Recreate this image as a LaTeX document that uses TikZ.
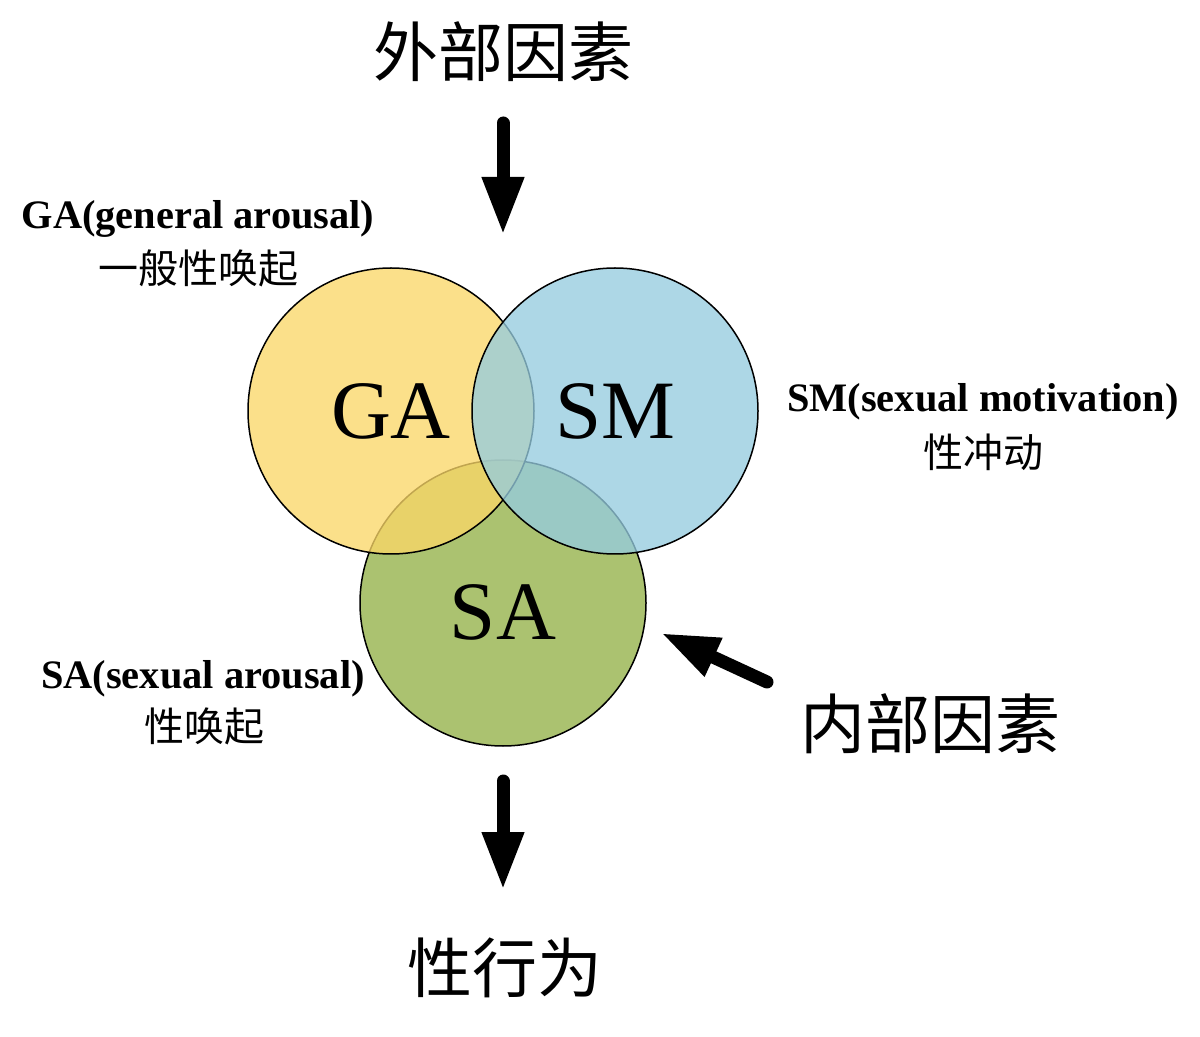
\documentclass[tikz,border=0pt]{standalone}
\usepackage{fontspec}
\setmainfont{Liberation Serif}
\newfontfamily\cjk{Noto Sans CJK SC}
\usetikzlibrary{arrows.meta}
\definecolor{gacol}{RGB}{251,215,103}
\definecolor{smcol}{RGB}{149,204,223}
\definecolor{sacol}{RGB}{171,194,112}
\tikzset{
  venn/.style={circle, draw=black, line width=0.75pt, minimum size=143pt, inner sep=0pt, fill opacity=0.77, text opacity=1},
  bigarrow/.style={line width=6.5pt, line cap=round, -{Triangle[length=29pt,width=19.5pt]}},
  bigcn/.style={font=\cjk\fontsize{32.5pt}{36pt}\selectfont, inner sep=0pt},
  vtxt/.style={font=\fontsize{41.5pt}{45pt}\selectfont, inner sep=0pt},
  lbl/.style={font=\bfseries\fontsize{20.2pt}{23pt}\selectfont, inner sep=0pt},
  cnlbl/.style={font=\cjk\fontsize{20pt}{23pt}\selectfont, inner sep=0pt}
}
\begin{document}
\begin{tikzpicture}[x=0.5pt,y=-0.5pt]
\useasboundingbox[fill=white] (0,0) rectangle (1200,1037);
% circles
\node[venn, fill=sacol, fill opacity=1] (sa) at (503,603) {};
\node[venn, fill=gacol] (ga) at (391,411) {};
\node[venn, fill=smcol] (sm) at (615,411) {};
\node[vtxt] (gat) at (391,411) {GA};
\node[vtxt] (smt) at (615,411) {SM};
\node[vtxt] (sat) at (503,612) {SA};
% big labels
\node[bigcn] (ext) at (503,52) {外部因素};
\node[bigcn] (beh) at (505,968) {性行为};
\node[bigcn] (int) at (930,724) {内部因素};
% side labels
\node[lbl] (gal) at (198,219) {GA(general arousal)};
\node[cnlbl] (galc) at (198,268) {一般性唤起};
\node[lbl] (sml) at (983,402) {SM(sexual motivation)};
\node[cnlbl] (smlc) at (983,452) {性冲动};
\node[lbl] (sal) at (203,679) {SA(sexual arousal)};
\node[cnlbl] (salc) at (204,726) {性唤起};
% arrows
\coordinate (t1) at (503,123);
\coordinate (t2) at (503,235);
\coordinate (b1) at (503,781);
\coordinate (b2) at (503,890);
\coordinate (d1) at (767,682);
\coordinate (d2) at (661,633);
\draw[bigarrow] (t1) -- (t2);
\draw[bigarrow] (b1) -- (b2);
\draw[bigarrow] (d1) -- (d2);
\end{tikzpicture}
\end{document}
